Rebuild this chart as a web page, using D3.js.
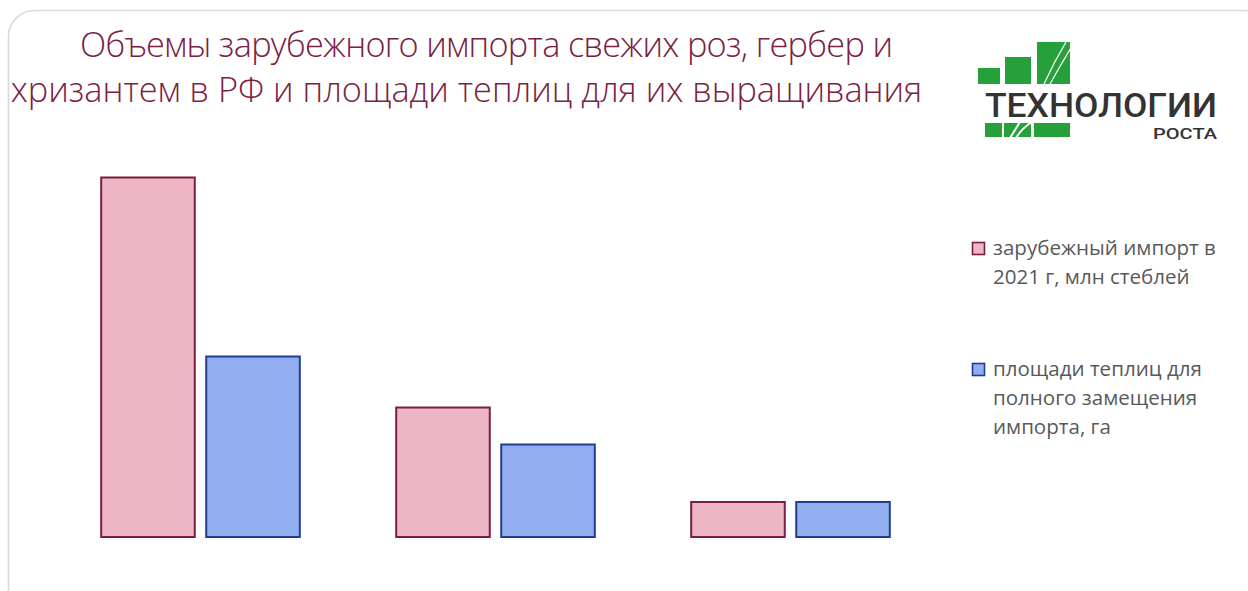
<!DOCTYPE html>
<html>
<head>
<meta charset="utf-8">
<script src="https://cdn.jsdelivr.net/npm/d3@7"></script>
<style>
  html, body { margin: 0; padding: 0; background: #fff; overflow: hidden; }
  svg { display: block; }
</style>
</head>
<body>
<script>
'use strict';

// chart data
const categories = ["розы", "герберы", "хризантемы"];
const seriesNames = ["import", "area"];
const legendLines = [
  ["зарубежный импорт в", "2021 г, млн стеблей"],
  ["площади теплиц для", "полного замещения", "импорта, га"]
];
const importValues = [719, 259, 70];   // млн стеблей
const areaValues = [361, 185, 70];     // га
const titleLines = [
  "Объемы зарубежного импорта свежих роз, гербер и",
  "хризантем в РФ и площади теплиц для их выращивания"
];

const fills = { import: "#eeb5c5", area: "#93aef0" };
const strokes = { import: "#7b1f42", area: "#1f3d91" };

const W = 1248, H = 591;
const svg = d3.select("body").append("svg").attr("width", W).attr("height", H);

// card border
svg.append("rect")
  .attr("x", 8.5).attr("y", 10.5)
  .attr("width", 1262).attr("height", 620)
  .attr("rx", 26)
  .attr("fill", "#fff")
  .attr("stroke", "#d9d9d9")
  .attr("stroke-width", 1.6);

// fit a text element to a given width by changing its font size
function fitText(sel, width) {
  const w = sel.node().getComputedTextLength();
  const fs = parseFloat(sel.style("font-size"));
  sel.style("font-size", (fs * width / w) + "px");
}

// title
const titleFont = "'Open Sans', 'Noto Sans', sans-serif";
const t2 = svg.append("text")
  .attr("x", 466.5).attr("y", 102)
  .attr("text-anchor", "middle")
  .style("font-family", titleFont)
  .style("font-weight", 300)
  .style("font-size", "26px")
  .attr("fill", "#7b2141")
  .text(titleLines[1]);
fitText(t2, 912);
svg.append("text")
  .attr("x", 80).attr("y", 57)
  .attr("textLength", 813)
  .attr("lengthAdjust", "spacing")
  .style("font-family", titleFont)
  .style("font-weight", 300)
  .style("font-size", t2.style("font-size"))
  .attr("fill", "#7b2141")
  .text(titleLines[0]);

// scales
const x = d3.scaleBand()
  .domain(categories)
  .range([53, 938])
  .paddingInner(0.32)
  .paddingOuter(0.16);

const xSub = d3.scaleBand()
  .domain(seriesNames)
  .range([0, x.bandwidth()])
  .paddingInner(0.09);

const y = d3.scaleLinear()
  .domain([0, 800])
  .range([537, 137]);

const rows = categories.map((c, i) => ({
  cat: c,
  values: [
    { key: "import", value: importValues[i] },
    { key: "area", value: areaValues[i] }
  ]
}));

const groups = svg.selectAll(".grp")
  .data(rows)
  .enter()
  .append("g")
  .attr("class", "grp")
  .attr("transform", d => "translate(" + x(d.cat) + ",0)");

groups.selectAll("rect")
  .data(d => d.values)
  .enter()
  .append("rect")
  .attr("x", d => xSub(d.key) + 1)
  .attr("y", d => y(d.value))
  .attr("width", xSub.bandwidth() - 2)
  .attr("height", d => y(0) - y(d.value))
  .attr("fill", d => fills[d.key])
  .attr("stroke", d => strokes[d.key])
  .attr("stroke-width", 2);

// legend
const legendFont = "'Open Sans', 'Noto Sans', sans-serif";
const legendY = [255, 376];
const leg = svg.append("g");
let legendSize = null;
seriesNames.forEach((s, i) => {
  leg.append("rect")
    .attr("x", 972.5).attr("y", legendY[i] - 12.5)
    .attr("width", 12).attr("height", 12)
    .attr("fill", fills[s])
    .attr("stroke", strokes[s])
    .attr("stroke-width", 1.6);
  legendLines[i].forEach((line, j) => {
    const t = leg.append("text")
      .attr("class", "legtxt")
      .attr("x", 993)
      .attr("y", legendY[i] + j * 29)
      .style("font-family", legendFont)
      .style("font-size", "18px")
      .attr("fill", "#595959")
      .text(line);
    if (i === 0 && j === 0) {
      fitText(t, 223);
      legendSize = t.style("font-size");
    }
  });
});
leg.selectAll(".legtxt").style("font-size", legendSize);

// logo "Технологии роста"
const logo = svg.append("g");
const green = "#26a03a";
logo.append("rect").attr("x", 978).attr("y", 68).attr("width", 22).attr("height", 16).attr("fill", green);
logo.append("rect").attr("x", 1005).attr("y", 57).attr("width", 26).attr("height", 27).attr("fill", green);
logo.append("rect").attr("x", 1037).attr("y", 42).attr("width", 33).attr("height", 42).attr("fill", green);
logo.append("path")
  .attr("d", "M1044,84 Q1054,62 1066,42 M1050,84 Q1060,66 1072,46")
  .attr("fill", "none").attr("stroke", "#fff").attr("stroke-width", 1.3);
logo.append("rect").attr("x", 985).attr("y", 123).attr("width", 17).attr("height", 14).attr("fill", green);
logo.append("rect").attr("x", 1004).attr("y", 123).attr("width", 27).attr("height", 14).attr("fill", green);
logo.append("path")
  .attr("d", "M1010,138 L1020,122 M1016,138 Q1022,128 1032,122")
  .attr("fill", "none").attr("stroke", "#fff").attr("stroke-width", 2);
logo.append("rect").attr("x", 1034).attr("y", 123).attr("width", 36).attr("height", 14).attr("fill", green);

logo.append("text")
  .attr("x", 985).attr("y", 117)
  .attr("textLength", 232).attr("lengthAdjust", "spacingAndGlyphs")
  .style("font-family", "Roboto, sans-serif")
  .style("font-weight", 500)
  .style("font-size", "33px")
  .attr("fill", "#333")
  .text("ТЕХНОЛОГИИ");
logo.append("text")
  .attr("x", 1153).attr("y", 138.5)
  .attr("textLength", 64).attr("lengthAdjust", "spacingAndGlyphs")
  .style("font-family", "Roboto, sans-serif")
  .style("font-weight", 500)
  .style("font-size", "14px")
  .attr("fill", "#333")
  .text("РОСТА");
</script>
</body>
</html>
